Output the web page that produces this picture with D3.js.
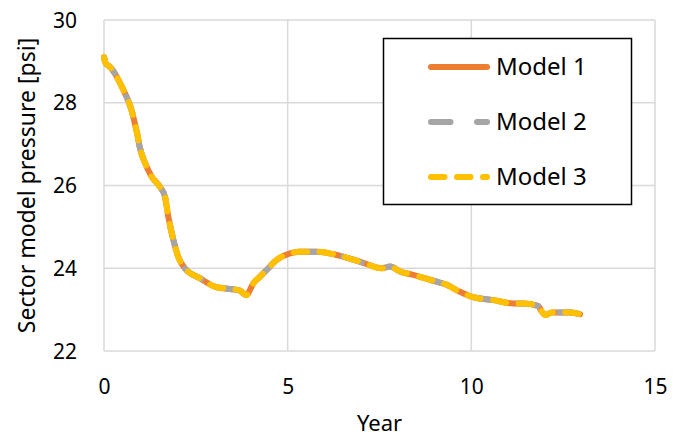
<!DOCTYPE html>
<html>
<head>
<meta charset="utf-8">
<script src="https://cdn.jsdelivr.net/npm/d3@7"></script>
<style>
  html, body { margin: 0; padding: 0; background: #fff; }
  svg text { font-family: "Noto Sans", "Open Sans", sans-serif; fill: #000; }
</style>
</head>
<body>
<svg id="chart" width="686" height="437"></svg>
<script>
// Sector model pressure history (psi) against time (years)
const years = [0, 0.05, 0.16, 0.3, 0.44, 0.57, 0.75, 0.84, 0.92, 0.97, 1.12, 1.3, 1.52, 1.66, 1.75, 1.89, 2.02, 2.2,
  2.61, 3.07, 3.43, 3.7, 3.87, 4.07, 4.25, 4.43, 4.7, 5.06, 5.34, 5.79, 6.43, 7.06, 7.56, 7.79, 8.06, 8.42, 8.88,
  9.33, 9.69, 10.05, 10.6, 11.14, 11.42, 11.82, 11.92, 12.01, 12.19, 12.42, 12.69, 12.96];
const model1 = [29.1, 28.95, 28.87, 28.7, 28.47, 28.23, 27.82, 27.5, 27.18, 26.94, 26.54, 26.21, 25.97, 25.73, 25.25, 24.68, 24.28, 24.0,
  23.76, 23.54, 23.5, 23.46, 23.35, 23.64, 23.8, 23.96, 24.2, 24.36, 24.4, 24.4, 24.3, 24.13, 24.0, 24.04, 23.92, 23.84, 23.72,
  23.6, 23.43, 23.3, 23.23, 23.15, 23.15, 23.09, 22.95, 22.87, 22.93, 22.93, 22.93, 22.89];
const model2 = [29.1, 28.95, 28.87, 28.7, 28.47, 28.23, 27.82, 27.5, 27.18, 26.94, 26.54, 26.21, 25.97, 25.73, 25.25, 24.68, 24.28, 24.0,
  23.76, 23.54, 23.5, 23.46, 23.35, 23.64, 23.8, 23.96, 24.2, 24.36, 24.4, 24.4, 24.3, 24.13, 24.0, 24.04, 23.92, 23.84, 23.72,
  23.6, 23.43, 23.3, 23.23, 23.15, 23.15, 23.09, 22.95, 22.87, 22.93, 22.93, 22.93, 22.89];
const model3 = [29.1, 28.95, 28.87, 28.7, 28.47, 28.23, 27.82, 27.5, 27.18, 26.94, 26.54, 26.21, 25.97, 25.73, 25.25, 24.68, 24.28, 24.0,
  23.76, 23.54, 23.5, 23.46, 23.35, 23.64, 23.8, 23.96, 24.2, 24.36, 24.4, 24.4, 24.3, 24.13, 24.0, 24.04, 23.92, 23.84, 23.72,
  23.6, 23.43, 23.3, 23.23, 23.15, 23.15, 23.09, 22.95, 22.87, 22.93, 22.93, 22.93, 22.89];
const seriesNames = ["Model 1", "Model 2", "Model 3"];
const xTicks = [0, 5, 10, 15];
const yTicks = [22, 24, 26, 28, 30];

const series = [
  { name: seriesNames[0], values: model1, color: "#ED7D31", dash: null },
  { name: seriesNames[1], values: model2, color: "#A5A5A5", dash: "19.5,26.5" },
  { name: seriesNames[2], values: model3, color: "#FFC000", dash: "13.5,12.5" }
];

const svg = d3.select("#chart");
const margin = { left: 104, right: 31, top: 20, bottom: 86 };
const W = 686, H = 437;

const x = d3.scaleLinear().domain([0, 15]).range([margin.left, W - margin.right]);
const y = d3.scaleLinear().domain([22, 30]).range([H - margin.bottom, margin.top]);

const gridColor = "#D9D9D9";

// Gridlines
svg.append("g")
  .selectAll("line")
  .data(yTicks)
  .join("line")
  .attr("x1", x(0)).attr("x2", x(15))
  .attr("y1", d => y(d)).attr("y2", d => y(d))
  .attr("stroke", gridColor).attr("stroke-width", 1.5);

svg.append("g")
  .selectAll("line")
  .data(xTicks)
  .join("line")
  .attr("x1", d => x(d)).attr("x2", d => x(d))
  .attr("y1", y(22)).attr("y2", y(30))
  .attr("stroke", gridColor).attr("stroke-width", 1.5);

// Axes (labels only; the frame comes from the gridlines above)
const xAxis = d3.axisBottom(x).tickValues(xTicks).tickSize(0).tickPadding(0).tickFormat(d3.format("d"));
const gx = svg.append("g").attr("transform", `translate(0,${y(22)})`).call(xAxis);
gx.select(".domain").remove();
gx.selectAll("text").attr("font-size", 21).attr("dy", null).attr("y", 43);

const yAxis = d3.axisLeft(y).tickValues(yTicks).tickSize(0).tickPadding(0).tickFormat(d3.format("d"));
const gy = svg.append("g").attr("transform", `translate(${x(0)},0)`).call(yAxis);
gy.select(".domain").remove();
gy.selectAll("text").attr("font-size", 21).attr("x", -27).attr("dy", "0.34em");

// Axis titles
svg.append("text")
  .attr("x", (x(0) + x(15)) / 2).attr("y", 431)
  .attr("text-anchor", "middle").attr("font-size", 22)
  .text("Year");

svg.append("text")
  .attr("transform", `translate(35,${(y(22) + y(30)) / 2}) rotate(-90)`)
  .attr("text-anchor", "middle").attr("font-size", 23)
  .text("Sector model pressure [psi]");

// Series lines
const line = d3.line()
  .x((d, i) => x(years[i]))
  .y(d => y(d))
  .curve(d3.curveMonotoneX);

svg.append("g")
  .selectAll("path")
  .data(series)
  .join("path")
  .attr("d", d => line(d.values))
  .attr("fill", "none")
  .attr("stroke", d => d.color)
  .attr("stroke-width", 6)
  .attr("stroke-linecap", "round")
  .attr("stroke-linejoin", "round")
  .attr("stroke-dasharray", d => d.dash);

// Legend
const legend = svg.append("g");
legend.append("rect")
  .attr("x", 383.5).attr("y", 38.5).attr("width", 248).attr("height", 166)
  .attr("fill", "#fff").attr("stroke", "#000").attr("stroke-width", 1.5);

const items = legend.selectAll("g")
  .data(series)
  .join("g")
  .attr("transform", (d, i) => `translate(0,${67 + i * 55})`);

items.append("line")
  .attr("x1", 431).attr("x2", 487).attr("y1", 0).attr("y2", 0)
  .attr("stroke", d => d.color)
  .attr("stroke-width", 6)
  .attr("stroke-linecap", "round")
  .attr("stroke-dasharray", d => d.dash);

items.append("text")
  .attr("x", 496).attr("y", 8)
  .attr("font-size", 24)
  .text(d => d.name);
</script>
</body>
</html>
